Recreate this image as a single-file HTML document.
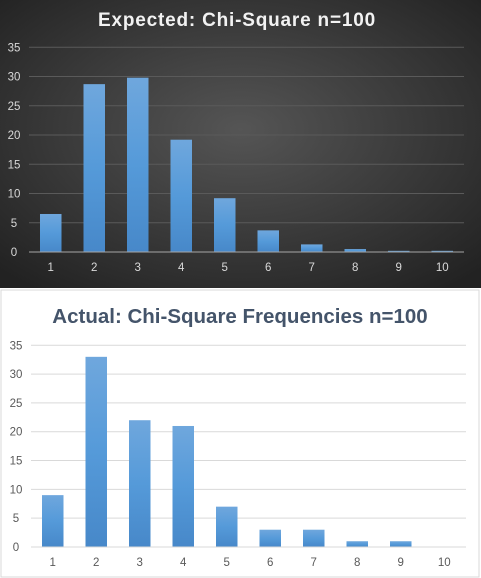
<!DOCTYPE html>
<html><head><meta charset="utf-8"><style>
body{margin:0;width:481px;height:578px;overflow:hidden;background:#fff;font-family:"Liberation Sans",sans-serif}
svg{display:block}
</style></head><body>
<svg width="481" height="578">
<defs>
<radialGradient id="dark" cx="50%" cy="45%" r="70%">
<stop offset="0" stop-color="#555"/><stop offset="1" stop-color="#222"/></radialGradient>
<linearGradient id="bar" x1="0" y1="0" x2="0" y2="1">
<stop offset="0" stop-color="#6fa7dd"/><stop offset="0.5" stop-color="#559ad9"/><stop offset="1" stop-color="#4788c9"/></linearGradient>
</defs>
<rect x="0" y="0" width="481" height="288" fill="url(#dark)"/>
<text x="237" y="26" text-anchor="middle" fill="#f2f2f2" font-size="19" font-weight="bold" letter-spacing="0.8">Expected:  Chi-Square  n=100</text>
<rect x="1" y="290" width="478" height="287" fill="#fff" stroke="#d9d9d9"/>
<text x="240" y="323" text-anchor="middle" fill="#44546a" font-size="20.5" font-weight="bold">Actual: Chi-Square Frequencies n=100</text>
<g id="top"></g>
<g id="bot"></g>
</svg>
<script>
const categories=["1","2","3","4","5","6","7","8","9","10"];
const expectedValues=[6.5,28.7,29.8,19.2,9.2,3.7,1.3,0.5,0.2,0.2];
const actualValues=[9,33,22,21,7,3,3,1,1,0];
const yTicks=[0,5,10,15,20,25,30,35];
const NS="http://www.w3.org/2000/svg";
function mk(p,t,a){const e=document.createElementNS(NS,t);for(const k in a)e.setAttribute(k,a[k]);p.appendChild(e);return e;}
function draw(g,vals,o){
  const y=v=>o.y0-(o.y0-o.y35)*v/35;
  const bw=(o.x1-o.x0)/categories.length;
  const x=i=>o.x0+bw*(i+0.5);
  yTicks.forEach(t=>{
    const l=mk(g,'line',{x1:o.x0,x2:o.x1,y1:y(t),y2:y(t),stroke:t===0?o.axis:o.grid,'stroke-width':1});
    
    
    const tx=mk(g,'text',{x:o.lx,y:y(t)+4,'text-anchor':'middle','font-size':11.5,fill:o.lab});
    tx.textContent=t;
    
    
  });
  vals.forEach((v,i)=>{
    const r=mk(g,'rect',{x:x(i)-10.75,y:y(v),width:21.5,height:y(0)-y(v),fill:'url(#bar)'});
    
    
  });
  mk(g,'line',{x1:o.x0,x2:o.x1,y1:y(0),y2:y(0),stroke:o.axis});
  categories.forEach((c,i)=>{
    const tx=mk(g,'text',{x:x(i),y:o.xl,'text-anchor':'middle','font-size':11.5,fill:o.lab});
    tx.textContent=c;
    
    
  });
}
draw(document.getElementById('top'),expectedValues,{x0:29,x1:464,y0:252,y35:47.3,lx:14,xl:271,grid:'#5a5a5a',axis:'#a6a6a6',lab:'#d9d9d9'});
draw(document.getElementById('bot'),actualValues,{x0:31,x1:466,y0:547,y35:345.3,lx:16,xl:566,grid:'#d9d9d9',axis:'#d9d9d9',lab:'#595959'});
</script>
</body></html>
